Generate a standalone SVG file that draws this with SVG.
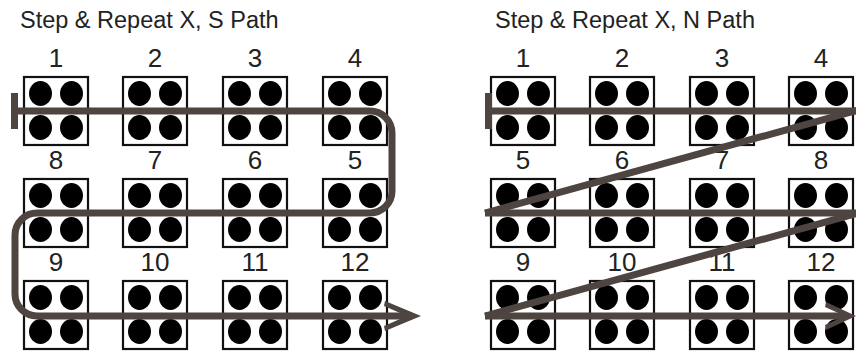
<svg xmlns="http://www.w3.org/2000/svg" xmlns:xlink="http://www.w3.org/1999/xlink" width="856" height="353" viewBox="0 0 856 353">
<style>
.title{font-family:"Liberation Sans",Arial,sans-serif;font-size:23.5px;fill:#222}
.num{font-family:"Liberation Sans",Arial,sans-serif;font-size:26px;fill:#222;text-anchor:middle}
.box{fill:#fff;stroke:#111;stroke-width:2.2}
.dot{fill:#000}
.conn{fill:none;stroke:#4e4541;stroke-width:7}
.cfill{fill:#4e4541}
</style>
<defs>
<g id="cell">
<rect class="box" x="0" y="0" width="64" height="68"/>
<ellipse class="dot" cx="16.5" cy="16.5" rx="11.5" ry="12.5"/>
<ellipse class="dot" cx="47.5" cy="16.5" rx="11.5" ry="12.5"/>
<ellipse class="dot" cx="16.5" cy="50.5" rx="11.5" ry="12.5"/>
<ellipse class="dot" cx="47.5" cy="50.5" rx="11.5" ry="12.5"/>
</g>
</defs>
<rect width="856" height="353" fill="#fff"/>
<text class="title" x="20" y="28">Step &amp; Repeat X, S Path</text>
<text class="title" x="495" y="28">Step &amp; Repeat X, N Path</text>

<g id="s-path-cells">
<g id="s1" transform="translate(24,77)"><use href="#cell"/><text class="num" x="32" y="-10.5">1</text></g>
<g id="s2" transform="translate(123,77)"><use href="#cell"/><text class="num" x="32" y="-10.5">2</text></g>
<g id="s3" transform="translate(223,77)"><use href="#cell"/><text class="num" x="32" y="-10.5">3</text></g>
<g id="s4" transform="translate(323,77)"><use href="#cell"/><text class="num" x="32" y="-10.5">4</text></g>
<g id="s8" transform="translate(24,179)"><use href="#cell"/><text class="num" x="32" y="-10.5">8</text></g>
<g id="s7" transform="translate(123,179)"><use href="#cell"/><text class="num" x="32" y="-10.5">7</text></g>
<g id="s6" transform="translate(223,179)"><use href="#cell"/><text class="num" x="32" y="-10.5">6</text></g>
<g id="s5" transform="translate(323,179)"><use href="#cell"/><text class="num" x="32" y="-10.5">5</text></g>
<g id="s9" transform="translate(24,281)"><use href="#cell"/><text class="num" x="32" y="-10.5">9</text></g>
<g id="s10" transform="translate(123,281)"><use href="#cell"/><text class="num" x="32" y="-10.5">10</text></g>
<g id="s11" transform="translate(223,281)"><use href="#cell"/><text class="num" x="32" y="-10.5">11</text></g>
<g id="s12" transform="translate(323,281)"><use href="#cell"/><text class="num" x="32" y="-10.5">12</text></g>
</g>

<g id="n-path-cells">
<g id="n1" transform="translate(491,77)"><use href="#cell"/><text class="num" x="32" y="-10.5">1</text></g>
<g id="n2" transform="translate(590,77)"><use href="#cell"/><text class="num" x="32" y="-10.5">2</text></g>
<g id="n3" transform="translate(690,77)"><use href="#cell"/><text class="num" x="32" y="-10.5">3</text></g>
<g id="n4" transform="translate(789,77)"><use href="#cell"/><text class="num" x="32" y="-10.5">4</text></g>
<g id="n5" transform="translate(491,179)"><use href="#cell"/><text class="num" x="32" y="-10.5">5</text></g>
<g id="n6" transform="translate(590,179)"><use href="#cell"/><text class="num" x="32" y="-10.5">6</text></g>
<g id="n7" transform="translate(690,179)"><use href="#cell"/><text class="num" x="32" y="-10.5">7</text></g>
<g id="n8" transform="translate(789,179)"><use href="#cell"/><text class="num" x="32" y="-10.5">8</text></g>
<g id="n9" transform="translate(491,281)"><use href="#cell"/><text class="num" x="32" y="-10.5">9</text></g>
<g id="n10" transform="translate(590,281)"><use href="#cell"/><text class="num" x="32" y="-10.5">10</text></g>
<g id="n11" transform="translate(690,281)"><use href="#cell"/><text class="num" x="32" y="-10.5">11</text></g>
<g id="n12" transform="translate(789,281)"><use href="#cell"/><text class="num" x="32" y="-10.5">12</text></g>
</g>

<g id="connectors">
<rect class="cfill" x="11" y="93" width="7" height="36"/>
<path class="conn" d="M18,111 H370 A22,22 0 0 1 392,133 V191 A22,22 0 0 1 370,213 H37 A22,22 0 0 0 15,235 V294 A22,22 0 0 0 37,316 H412"/>
<polygon class="cfill" points="421,316 385,301 384,306 407,316 384,326 385,331"/>

<rect class="cfill" x="485" y="93" width="7" height="36"/>
<path class="conn" d="M492,111 H858"/>
<path class="conn" d="M858,110 L485,213"/>
<path class="conn" d="M485,213 H858"/>
<path class="conn" d="M858,213 L485,316"/>
<path class="conn" d="M485,316 H846"/>
<polygon class="cfill" points="856,316 826,302 825,307 845,316 825,325 826,330"/>
</g>
</svg>
